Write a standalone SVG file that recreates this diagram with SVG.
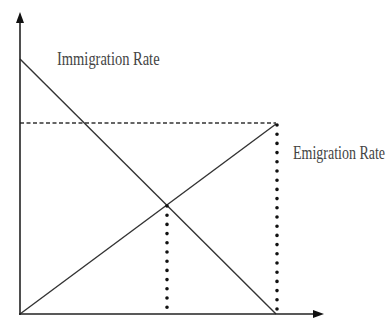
<svg xmlns="http://www.w3.org/2000/svg" width="392" height="321" viewBox="0 0 392 321">
<style>
.ax{stroke:#222;stroke-width:1.6;fill:none}
.ln{stroke:#333;stroke-width:1.4;fill:none}
.dash{stroke:#333;stroke-width:1.6;stroke-dasharray:4 2.5;fill:none}
.dot{stroke:#111;stroke-width:3.6;stroke-linecap:round;stroke-dasharray:0 9.2;fill:none}
.lbl{font-family:"Liberation Serif",serif;fill:#444}
</style>
<rect width="392" height="321" fill="#fff"/>
<g id="connectors">
<line class="dash" x1="20" y1="123" x2="276" y2="123"/>
<line class="ln" x1="20" y1="59" x2="276" y2="314"/>
<line class="ln" x1="20" y1="314" x2="276" y2="124"/>
<line class="dot" x1="277" y1="125" x2="277" y2="313"/>
<line class="dot" x1="167" y1="206" x2="167" y2="313"/>
</g>
<g id="axes">
<line class="ax" x1="20" y1="315" x2="20" y2="20"/>
<line class="ax" x1="19" y1="314" x2="316" y2="314"/>
<polygon points="20,12 16,23 24,23" fill="#111"/>
<polygon points="324,314 313,310 313,318" fill="#111"/>
</g>
<g id="immigration-label"><text class="lbl" font-size="14.5" transform="translate(57,65) scale(1,1.3)">Immigration Rate</text></g>
<g id="emigration-label"><text class="lbl" font-size="14" transform="translate(293,159) scale(1,1.3)">Emigration Rate</text></g>
</svg>
